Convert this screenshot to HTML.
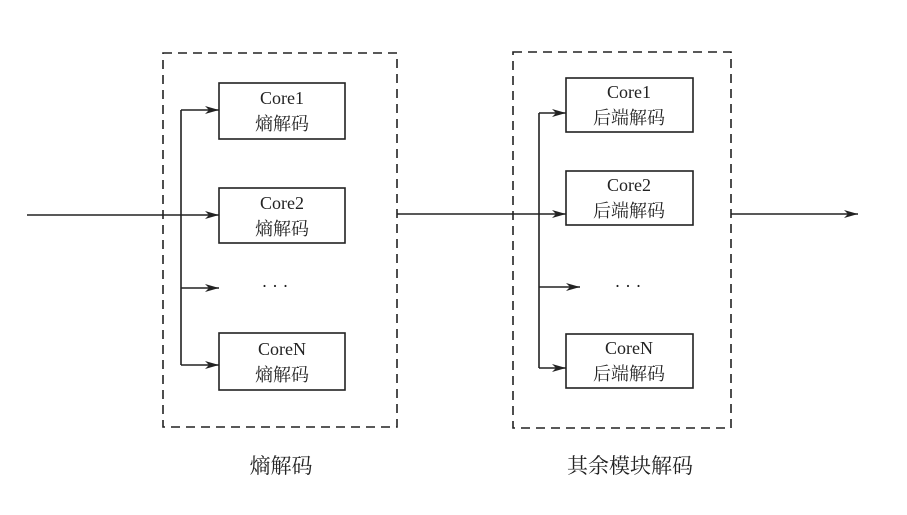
<!DOCTYPE html>
<html><head><meta charset="utf-8"><style>
body{margin:0;background:#fff;}
svg text{font-family:"Liberation Serif","Noto Serif CJK SC",serif;fill:#222;}
</style></head><body>
<svg width="907" height="510" viewBox="0 0 907 510" xmlns="http://www.w3.org/2000/svg">
<defs><marker id="a" viewBox="0 0 14 8" refX="14" refY="4" markerWidth="14" markerHeight="8" markerUnits="userSpaceOnUse" orient="auto"><path d="M0,0 L14,4 L0,8 L4,4 Z" fill="#222"/></marker></defs>
<g stroke="#222" stroke-width="1.6" fill="none">
<rect x="163" y="53" width="234" height="374" stroke-dasharray="9,6"/>
<rect x="513" y="52" width="218" height="376" stroke-dasharray="9,6"/>
<rect x="219" y="83" width="126" height="56"/>
<rect x="219" y="188" width="126" height="55"/>
<rect x="219" y="333" width="126" height="57"/>
<rect x="566" y="78" width="127" height="54"/>
<rect x="566" y="171" width="127" height="54"/>
<rect x="566" y="334" width="127" height="54"/>
<line x1="27" y1="215" x2="219" y2="215" marker-end="url(#a)"/>
<line x1="181" y1="110" x2="181" y2="365"/>
<line x1="181" y1="110" x2="219" y2="110" marker-end="url(#a)"/>
<line x1="181" y1="288" x2="219" y2="288" marker-end="url(#a)"/>
<line x1="181" y1="365" x2="219" y2="365" marker-end="url(#a)"/>
<line x1="397" y1="214" x2="566" y2="214" marker-end="url(#a)"/>
<line x1="539" y1="113" x2="539" y2="368"/>
<line x1="539" y1="113" x2="566" y2="113" marker-end="url(#a)"/>
<line x1="539" y1="287" x2="580" y2="287" marker-end="url(#a)"/>
<line x1="539" y1="368" x2="566" y2="368" marker-end="url(#a)"/>
<line x1="731" y1="214" x2="858" y2="214" marker-end="url(#a)"/>
</g>
<g font-size="18" text-anchor="middle">
<text x="282" y="104">Core1</text><text x="282" y="130">熵解码</text>
<text x="282" y="209">Core2</text><text x="282" y="235">熵解码</text>
<text x="282" y="355">CoreN</text><text x="282" y="381">熵解码</text>
<text x="629" y="98">Core1</text><text x="629" y="124">后端解码</text>
<text x="629" y="191">Core2</text><text x="629" y="217">后端解码</text>
<text x="629" y="354">CoreN</text><text x="629" y="380">后端解码</text>
<text x="275" y="292">· · ·</text>
<text x="628" y="292">· · ·</text>
</g>
<g font-size="21" text-anchor="middle">
<text x="281" y="473">熵解码</text>
<text x="630" y="473">其余模块解码</text>
</g>
</svg>
</body></html>
